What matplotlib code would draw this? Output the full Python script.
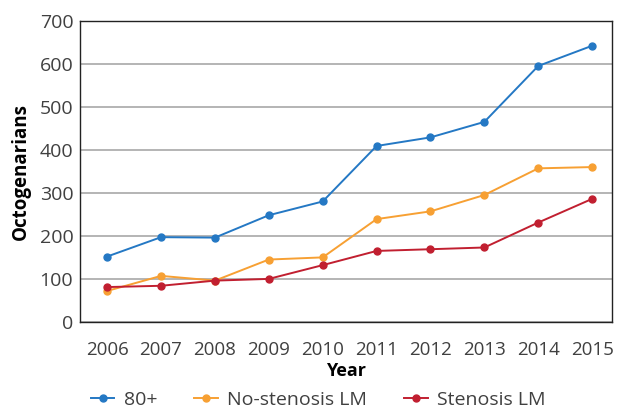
import matplotlib.pyplot as plt

years = ['2006', '2007', '2008', '2009', '2010', '2011', '2012', '2013', '2014', '2015']
age80 = [152, 197, 196, 248, 280, 409, 429, 465, 595, 642]
no_stenosis = [72, 107, 96, 145, 150, 239, 257, 295, 357, 360]
stenosis = [81, 84, 96, 100, 132, 165, 169, 173, 231, 286]

plt.rcParams['font.family'] = ['Open Sans', 'DejaVu Sans']

fig = plt.figure(figsize=(6.22, 4.08), dpi=100)
ax = fig.add_axes([0.129, 0.211, 0.855, 0.738])

x = list(range(len(years)))
ax.plot(x, age80, color='#2478c4', marker='o', markersize=5, lw=1.4, label='80+')
ax.plot(x, no_stenosis, color='#f7a033', marker='o', markersize=5, lw=1.4, label='No-stenosis LM')
ax.plot(x, stenosis, color='#c11f30', marker='o', markersize=5, lw=1.4, label='Stenosis LM')

ax.set_xlim(-0.5, 9.37)
ax.set_ylim(0, 700)
ax.set_yticks(range(0, 701, 100))
ax.set_xticks(x)
ax.set_xticklabels(years)
ax.yaxis.grid(True, color='#b4b4b4', lw=1.4)
ax.set_axisbelow(True)
ax.tick_params(length=0, labelsize=14, colors='#404040', pad=5)
ax.tick_params(axis='x', labelsize=13.5, pad=14)
for s in ax.spines.values():
    s.set_color('#222222')
    s.set_linewidth(1.0)

ax.set_xlabel('Year', fontsize=13, fontweight='bold', labelpad=2)
ax.set_ylabel('Octogenarians', fontsize=13.5, fontweight='bold', labelpad=6)

fig.legend(loc='lower left', bbox_to_anchor=(0.118, -0.045), ncol=3, frameon=False,
           fontsize=14, handlelength=1.2, columnspacing=1.9, handletextpad=0.5,
           labelcolor='#404040')

fig.savefig('out.png', dpi=100)
